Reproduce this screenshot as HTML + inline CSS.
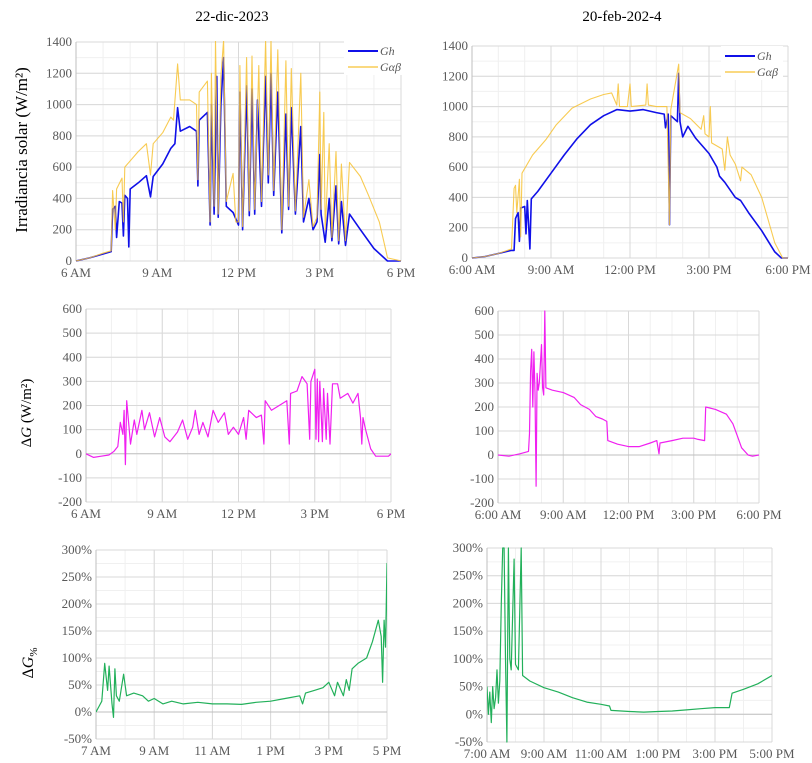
<!DOCTYPE html>
<html><head><meta charset="utf-8">
<style>
html,body{margin:0;padding:0;background:#fff;}
svg{display:block;font-family:"Liberation Serif",serif;}
.tk{font-size:13px;fill:#595959;}
</style></head>
<body>
<svg id="c" width="812" height="763" viewBox="0 0 812 763" xmlns="http://www.w3.org/2000/svg">
<text x="232" y="21" font-size="15" text-anchor="middle" fill="#000">22-dic-2023</text>
<text x="622" y="21" font-size="15" text-anchor="middle" fill="#000">20-feb-202-4</text>
<text transform="translate(27,150) rotate(-90)" font-size="17" text-anchor="middle" fill="#000">Irradiancia solar (W/m²)</text>
<text transform="translate(31,413) rotate(-90)" font-size="15" text-anchor="middle" fill="#000">Δ<tspan font-style="italic">G</tspan> (W/m²)</text>
<text transform="translate(33,663) rotate(-90)" font-size="16" text-anchor="middle" fill="#000">Δ<tspan font-style="italic">G</tspan><tspan font-size="11" dy="4">%</tspan></text>
</svg>
<script>
// ---- data (time in hours, value) ----
const ghDec=[[6,0],[6.5,20],[7,45],[7.3,60],[7.35,330],[7.45,350],[7.5,150],[7.6,380],[7.7,370],[7.75,160],[7.8,420],[7.9,400],[7.95,90],[8,460],[8.3,500],[8.6,545],[8.75,410],[8.85,540],[9.2,620],[9.5,720],[9.65,750],[9.75,980],[9.85,830],[10.2,860],[10.45,830],[10.5,480],[10.55,900],[10.85,950],[10.95,230],[11,1000],[11.1,300],[11.2,1180],[11.25,280],[11.35,1000],[11.45,1300],[11.55,350],[11.8,310],[12,230],[12.05,1080],[12.15,200],[12.3,1120],[12.4,290],[12.5,1100],[12.6,300],[12.7,1030],[12.85,350],[13,1180],[13.1,500],[13.2,1200],[13.3,420],[13.45,1080],[13.6,180],[13.75,940],[13.85,330],[13.95,980],[14.1,300],[14.3,860],[14.4,250],[14.6,400],[14.75,200],[14.9,250],[15,680],[15.05,300],[15.2,120],[15.35,400],[15.45,130],[15.6,480],[15.7,110],[15.8,380],[15.95,100],[16.1,300],[16.5,200],[17,80],[17.5,0],[18,0]];
const gabDec=[[6,0],[6.5,20],[7,50],[7.3,65],[7.35,450],[7.45,200],[7.5,460],[7.7,530],[7.75,250],[7.8,600],[8.3,700],[8.6,750],[8.75,550],[8.85,750],[9.2,820],[9.5,920],[9.6,900],[9.75,1260],[9.85,1030],[10.2,1030],[10.45,1000],[10.5,520],[10.55,1080],[10.85,1150],[10.95,250],[11,1200],[11.1,350],[11.15,1410],[11.25,300],[11.35,1180],[11.45,1410],[11.55,380],[11.8,560],[11.9,250],[12,250],[12.05,1250],[12.15,220],[12.3,1300],[12.4,320],[12.5,1310],[12.6,330],[12.75,1250],[12.85,380],[13,1410],[13.1,550],[13.2,1410],[13.3,450],[13.45,1350],[13.6,200],[13.75,1280],[13.85,350],[13.95,1230],[14.1,320],[14.3,1200],[14.4,280],[14.6,520],[14.75,220],[14.9,280],[15,1080],[15.05,330],[15.15,950],[15.2,200],[15.35,750],[15.45,150],[15.6,700],[15.7,130],[15.8,620],[15.95,130],[16.1,630],[16.5,540],[16.8,420],[17.2,250],[17.4,100],[17.5,20],[18,0]];
const ghFeb=[[6,0],[6.5,10],[7,30],[7.5,50],[7.6,50],[7.65,260],[7.75,300],[7.8,110],[7.85,330],[8,340],[8.05,160],[8.1,380],[8.2,60],[8.25,390],[8.5,440],[9,560],[9.5,680],[10,790],[10.5,880],[11,940],[11.5,980],[12,970],[12.5,980],[13,960],[13.3,950],[13.35,860],[13.45,950],[13.5,220],[13.55,940],[13.8,900],[13.85,1220],[13.9,900],[14,800],[14.2,870],[14.5,790],[15,690],[15.3,600],[15.4,540],[15.6,500],[16,400],[16.2,380],[16.5,300],[17,180],[17.5,40],[17.75,0],[18,0]];
const gabFeb=[[6,0],[6.5,10],[7,30],[7.5,60],[7.6,460],[7.65,480],[7.7,300],[7.8,520],[7.85,140],[7.9,560],[8.3,680],[8.8,780],[9.2,880],[9.8,990],[10.5,1050],[11,1080],[11.3,1090],[11.5,1010],[11.55,1150],[11.6,1000],[11.9,1000],[12,1150],[12.05,1000],[12.6,1010],[12.65,1150],[12.7,1010],[13,1000],[13.4,1000],[13.5,220],[13.55,980],[13.85,1280],[13.9,960],[14.3,920],[14.7,850],[14.8,940],[14.85,820],[15,800],[15.05,1000],[15.1,760],[15.5,720],[15.6,580],[15.7,800],[15.8,680],[16,620],[16.2,510],[16.25,600],[16.6,550],[17,400],[17.5,100],[17.8,0],[18,0]];
const dgDec=[[6,0],[6.3,-15],[6.6,-10],[6.9,-5],[7.1,10],[7.25,30],[7.35,130],[7.45,80],[7.5,180],[7.55,-45],[7.6,220],[7.75,40],[7.9,140],[8,80],[8.2,180],[8.3,100],[8.5,170],[8.7,70],[8.9,150],[9.1,70],[9.3,50],[9.6,90],[9.8,140],[10,60],[10.2,110],[10.3,180],[10.45,80],[10.6,130],[10.8,70],[11,180],[11.2,130],[11.45,170],[11.6,80],[11.8,110],[12,80],[12.2,150],[12.3,60],[12.4,180],[12.7,150],[12.9,160],[13,40],[13.05,220],[13.3,180],[13.6,200],[13.9,220],[14,40],[14.05,250],[14.3,260],[14.5,320],[14.7,290],[14.8,60],[14.85,300],[15,350],[15.05,60],[15.1,310],[15.15,50],[15.2,300],[15.3,50],[15.35,270],[15.45,60],[15.5,250],[15.6,40],[15.7,290],[15.9,290],[16,230],[16.3,250],[16.5,210],[16.7,250],[16.8,150],[16.85,40],[16.9,150],[17,100],[17.2,20],[17.4,-10],[17.9,-10],[18,0]];
const dgFeb=[[6,0],[6.5,-5],[7,5],[7.4,15],[7.45,90],[7.5,350],[7.55,440],[7.6,200],[7.65,430],[7.7,260],[7.75,-130],[7.8,340],[7.85,270],[7.9,300],[8,460],[8.05,280],[8.1,250],[8.15,600],[8.2,280],[8.5,270],[9,260],[9.5,240],[9.8,210],[10.2,190],[10.5,160],[10.8,150],[11,140],[11.05,60],[11.5,45],[12,35],[12.5,35],[13,50],[13.3,60],[13.4,5],[13.45,50],[14,60],[14.5,70],[15,70],[15.2,65],[15.5,60],[15.55,200],[16,190],[16.5,170],[16.8,130],[17,80],[17.2,30],[17.5,0],[17.7,-5],[18,0]];
const pctDec=[[7,0],[7.1,10],[7.2,20],[7.3,90],[7.4,40],[7.45,85],[7.55,15],[7.6,-10],[7.65,80],[7.7,30],[7.8,20],[7.95,70],[8.05,30],[8.3,35],[8.6,30],[8.8,20],[9,25],[9.3,15],[9.6,20],[10,15],[10.5,18],[11,15],[11.5,15],[12,14],[12.5,18],[13,20],[13.5,25],[14,30],[14.1,15],[14.2,35],[14.5,40],[14.8,45],[15,55],[15.2,30],[15.3,55],[15.5,30],[15.6,60],[15.7,40],[15.8,80],[16,90],[16.3,100],[16.5,130],[16.7,170],[16.8,140],[16.85,55],[16.9,170],[16.95,120],[17,275],[17.02,140]];
const pctFeb=[[7,50],[7.05,0],[7.1,40],[7.15,-15],[7.2,50],[7.25,10],[7.3,30],[7.35,80],[7.4,20],[7.45,60],[7.5,200],[7.55,300],[7.6,300],[7.65,100],[7.7,-50],[7.75,300],[7.8,100],[7.85,80],[7.95,280],[8,90],[8.1,80],[8.2,300],[8.25,70],[8.5,60],[9,48],[9.5,40],[10,30],[10.5,22],[11,18],[11.3,15],[11.35,7],[12,5],[12.5,4],[13,5],[13.5,6],[14,8],[14.5,10],[15,12],[15.5,12],[15.6,38],[16,45],[16.5,55],[17,70]];
// tick labels
const xLabShort=['6 AM','9 AM','12 PM','3 PM','6 PM'];
const xLabLong=['6:00 AM','9:00 AM','12:00 PM','3:00 PM','6:00 PM'];
const xLabShort2=['7 AM','9 AM','11 AM','1 PM','3 PM','5 PM'];
const xLabLong2=['7:00 AM','9:00 AM','11:00 AM','1:00 PM','3:00 PM','5:00 PM'];
const yIrr=[0,200,400,600,800,1000,1200,1400];
const yDelta=[-200,-100,0,100,200,300,400,500,600];
const yPct=[-50,0,50,100,150,200,250,300];

const NS='http://www.w3.org/2000/svg';
const svg=document.getElementById('c');
function mk(tag,attrs,parent){const e=document.createElementNS(NS,tag);for(const k in attrs)e.setAttribute(k,attrs[k]);(parent||svg).appendChild(e);return e;}
let clipN=0;
function panel(p){
  const g=mk('g',{});
  
  
  const sx=t=>p.x0+(t-p.t0)/(p.t1-p.t0)*(p.x1-p.x0);
  const sy=v=>p.y1-(v-p.v0)/(p.v1-p.v0)*(p.y1-p.y0);
  // minor grid
  for(let t=p.t0;t<=p.t1+1e-6;t+=p.minorT){mk('line',{x1:sx(t),x2:sx(t),y1:p.y0,y2:p.y1,stroke:'#f0f0f0','stroke-width':1},g);}
  for(let v=p.v0;v<=p.v1+1e-6;v+=p.minorV){mk('line',{x1:p.x0,x2:p.x1,y1:sy(v),y2:sy(v),stroke:'#f0f0f0','stroke-width':1},g);}
  p.xt.forEach((t,i)=>{
    mk('line',{x1:sx(t),x2:sx(t),y1:p.y0,y2:p.y1,stroke:'#d9d9d9','stroke-width':1},g);
    const tx=mk('text',{x:sx(t),y:p.y1+16,'text-anchor':'middle',class:'tk'},g);
    tx.textContent=p.xl[i];
    
    
  });
  p.yt.forEach(v=>{
    mk('line',{x1:p.x0,x2:p.x1,y1:sy(v),y2:sy(v),stroke:v===0&&p.v0<0?'#bfbfbf':'#d9d9d9','stroke-width':1},g);
    const tx=mk('text',{x:p.x0-4,y:sy(v)+4,'text-anchor':'end',class:'tk'},g);
    tx.textContent=p.pct?v+'%':String(v);
    
    
  });
  mk('line',{x1:p.x0,x2:p.x0,y1:p.y0,y2:p.y1,stroke:'#bfbfbf','stroke-width':1},g);
  const id='cl'+(clipN++);
  const cp=mk('clipPath',{id:id},g);
  mk('rect',{x:p.x0,y:p.y0-1,width:p.x1-p.x0,height:p.y1-p.y0+2},cp);
  p.series.forEach(s=>{
    const d=s.data.map((q,i)=>(i?'L':'M')+sx(q[0]).toFixed(1)+','+sy(q[1]).toFixed(1)).join('');
    const path=mk('path',{d:d,fill:'none',stroke:s.color,'stroke-width':s.w,'stroke-linejoin':'round','clip-path':'url(#'+id+')',opacity:s.op||1},g);
    
    
  });
  return g;
}
const BLUE='#1010e8', ORANGE='#f7c234', MAG='#f020f0', GREEN='#22b05a';
panel({name:'chart-irradiance-dec',x0:76,x1:401,y0:42,y1:261,t0:6,t1:18,v0:0,v1:1400,minorT:1,minorV:100,xt:[6,9,12,15,18],xl:xLabShort,yt:yIrr,
  series:[{data:ghDec,color:BLUE,w:1.6,name:'gh-line-dec'},{data:gabDec,color:ORANGE,w:1.1,name:'gab-line-dec',op:0.85}]});
panel({name:'chart-irradiance-feb',x0:472,x1:788,y0:46,y1:258,t0:6,t1:18,v0:0,v1:1400,minorT:1,minorV:100,xt:[6,9,12,15,18],xl:xLabLong,yt:yIrr,
  series:[{data:ghFeb,color:BLUE,w:1.6,name:'gh-line-feb'},{data:gabFeb,color:ORANGE,w:1.1,name:'gab-line-feb',op:0.85}]});
panel({name:'chart-delta-dec',x0:86,x1:391,y0:309,y1:502,t0:6,t1:18,v0:-200,v1:600,minorT:1,minorV:100,xt:[6,9,12,15,18],xl:xLabShort,yt:yDelta,
  series:[{data:dgDec,color:MAG,w:1.2,name:'delta-line-dec'}]});
panel({name:'chart-delta-feb',x0:498,x1:759,y0:311,y1:503,t0:6,t1:18,v0:-200,v1:600,minorT:1,minorV:100,xt:[6,9,12,15,18],xl:xLabLong,yt:yDelta,
  series:[{data:dgFeb,color:MAG,w:1.2,name:'delta-line-feb'}]});
panel({name:'chart-percent-dec',x0:96,x1:387,y0:550,y1:739,t0:7,t1:17,v0:-50,v1:300,minorT:1,minorV:25,pct:true,xt:[7,9,11,13,15,17],xl:xLabShort2,yt:yPct,
  series:[{data:pctDec,color:GREEN,w:1.2,name:'percent-line-dec'}]});
panel({name:'chart-percent-feb',x0:487,x1:772,y0:548,y1:742,t0:7,t1:17,v0:-50,v1:300,minorT:1,minorV:25,pct:true,xt:[7,9,11,13,15,17],xl:xLabLong2,yt:yPct,
  series:[{data:pctFeb,color:GREEN,w:1.2,name:'percent-line-feb'}]});
// legends
function legend(x,y,name){
  const g=mk('g',{});
  
  
  mk('rect',{x:x-4,y:y-10,width:62,height:34,fill:'#fff'},g);
  mk('line',{x1:x,x2:x+30,y1:y,y2:y,stroke:BLUE,'stroke-width':2},g);
  mk('line',{x1:x,x2:x+30,y1:y+16,y2:y+16,stroke:ORANGE,'stroke-width':1.2},g);
  const a=mk('text',{x:x+32,y:y+4,'font-size':12,'font-style':'italic',fill:'#595959'},g);a.textContent='Gh';
  
  
  const b=mk('text',{x:x+32,y:y+20,'font-size':12,'font-style':'italic',fill:'#595959'},g);b.textContent='Gαβ';
  
  
}
legend(348,51,'legend-dec');
legend(725,56,'legend-feb');
</script>
</body></html>
